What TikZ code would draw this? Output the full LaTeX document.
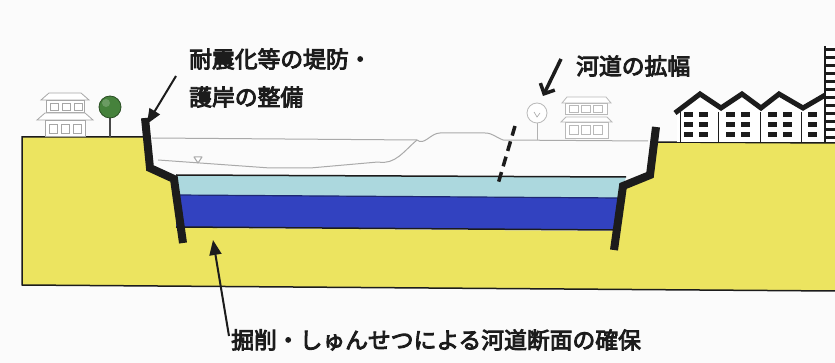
\documentclass[tikz,border=0pt]{standalone}
\usepackage{fontspec}
\newfontfamily\jp{Noto Sans CJK JP}
\usetikzlibrary{arrows.meta}
\definecolor{ground}{RGB}{236,228,96}
\definecolor{shallow}{RGB}{172,216,222}
\definecolor{deep}{RGB}{50,66,192}
\definecolor{ink}{RGB}{28,28,28}
\definecolor{faint}{RGB}{170,170,170}
\definecolor{leaf}{RGB}{70,130,60}
\definecolor{paper}{RGB}{251,251,251}
% heavier strokes for the captions: fill and outline the glyphs
\newcommand{\heavytext}[1]{\special{pdf:literal direct 2 Tr 0.9 w}#1\special{pdf:literal direct 0 Tr}}
\begin{document}
\begin{tikzpicture}[x=1pt,y=-1pt,
  caption/.style={font=\jp\fontsize{22.8}{27}\selectfont, text=ink, inner sep=0pt, anchor=west},
  wall/.style={line width=8pt, draw=ink, line join=miter},
  edge/.style={line width=1.5pt, draw=ink},
  oldline/.style={line width=1pt, draw=faint, line join=round},
  pointer/.style={line width=2pt, draw=ink, -{Triangle[length=15pt,width=12pt]}},
  sketch/.style={line width=0.8pt, draw=gray!70, fill=white},
  window/.style={fill=ink},
]
% background and frame
\fill[paper] (0,0) rectangle (835,363);
\useasboundingbox (0,0) rectangle (835,363);

% ground section
\fill[ground] (22,137) -- (146,137) -- (150,168) -- (175,180) -- (181,228)
  -- (612,231) -- (622,186) -- (650,175) -- (655,142) -- (835,143)
  -- (835,291) -- (22,285) -- cycle;
\draw[edge] (146,137) -- (22,137) -- (22,285) -- (835,291);
\draw[edge] (655,142) -- (835,143);

% water layers
\fill[shallow] (176,175) -- (626,177) -- (620,198) -- (176,195) -- cycle;
\fill[deep] (176,195) -- (620,198) -- (614,230) -- (176,227) -- cycle;
\draw[edge] (176,175) -- (626,177);
\draw[line width=1.2pt, draw=deep!60!black] (176,195) -- (620,198);
\draw[edge] (176,227) -- (614,230);

% former ground surface and former channel
\draw[oldline] (152,138) -- (417,140) to[out=-40,in=180] (440,133) -- (485,133) to[out=0,in=160] (503,140) -- (648,141);
\draw[oldline] (158,160) -- (200,163) -- (270,168) -- (310,168) -- (378,162) to[out=-10,in=-140] (417,140);
\draw[oldline, fill=white] (194,157) -- (202,157) -- (198,163) -- cycle;

% levee walls
\draw[wall] (145,118) -- (150,168) -- (174,179) -- (183,243);
\draw[wall] (656,127) -- (650,175) -- (623,186) -- (614,250);

% widened bank line
\draw[line width=3.5pt, draw=ink, dash pattern=on 10pt off 6pt] (515,126) -- (498,184);

% left house
\begin{scope}
  \draw[sketch] (41,100) -- (49,93) -- (81,93) -- (89,100) -- cycle;
  \draw[sketch] (46,100) rectangle (84,112);
  \foreach \x in {50,62,74} \draw[sketch] (\x,103) rectangle (\x+8,110);
  \draw[sketch] (37,120) -- (45,113) -- (85,113) -- (93,120) -- cycle;
  \draw[sketch] (45,120) rectangle (85,136);
  \foreach \x in {49,61,73} \draw[sketch] (\x,124) rectangle (\x+8,133);
\end{scope}
% left tree
\draw[line width=1.5pt, draw=ink!80] (110,112) -- (110,137);
\fill[leaf, draw=leaf!60!black, line width=0.8pt] (110,107) circle[radius=11];
\fill[leaf!80!white] (106,103) circle[radius=4];

% right house and tree
\draw[sketch, draw=gray!55] (562,103) -- (567,97) -- (606,97) -- (611,103) -- cycle;
\draw[sketch, draw=gray!55] (565,103) rectangle (607,114);
\foreach \x in {569,581,593} \draw[sketch, draw=gray!55] (\x,105) rectangle (\x+9,112);
\draw[sketch, draw=gray!55] (561,122) -- (566,117) -- (607,117) -- (612,122) -- cycle;
\draw[sketch, draw=gray!55] (565,122) rectangle (608,138);
\foreach \x in {569,581,593} \draw[sketch, draw=gray!55] (\x,125) rectangle (\x+9,134);
\draw[line width=0.8pt, draw=gray!60] (537,122) -- (537,140);
\draw[sketch, draw=gray!55] (537,113) circle[radius=10];
\draw[line width=0.6pt, draw=gray!70] (534,112) -- (537,117) -- (540,113);

% row houses
\fill[white] (677,112) -- (700,95) -- (721,109) -- (742,95) -- (761,109) -- (779,95)
  -- (803,109) -- (825,96) -- (825,142) -- (677,142) -- cycle;
\foreach \x in {680,718,760,801}
  \draw[line width=1pt, draw=ink] (\x,112) -- (\x,142);
\foreach \x in {684,699,726,741,768,783,808}
  \foreach \y in {112,122,132}
    \fill[window] (\x,\y) rectangle (\x+9,\y+5);
\draw[line width=5pt, draw=ink, line join=miter]
  (675,113) -- (700,94) -- (721,108) -- (742,94) -- (761,108) -- (779,94)
  -- (803,108) -- (827,94);

% tower block at the right edge
\fill[white] (825,46) rectangle (835,142);
\draw[line width=2pt, draw=ink] (825,46) -- (825,142);
\foreach \y in {48,56,...,136}
  \fill[ink] (825,\y) rectangle (835,\y+3.5);

% pointers
\coordinate (quakeTail) at (176,76);
\coordinate (leveeTop) at (147,124);
\coordinate (widenTail) at (561,59);
\coordinate (bankEdge) at (543,96);
\coordinate (dredgeTail) at (229,336);
\coordinate (channelBed) at (213,240);
\draw[pointer] (quakeTail) -- (leveeTop);
\draw[line width=3.5pt, draw=ink, -{Straight Barb[length=8pt,width=16pt,line width=3.5pt]}] (widenTail) -- (bankEdge);
\draw[pointer] (dredgeTail) -- (channelBed);

% captions
\node[caption] (quake) at (189,59) {\heavytext{耐震化等の堤防・}};
\node[caption] (bank) at (189,97) {\heavytext{護岸の整備}};
\node[caption] (widen) at (576,66) {\heavytext{河道の拡幅}};
\node[caption] (dredge) at (231,340) {\heavytext{掘削・しゅんせつによる河道断面の確保}};
\end{tikzpicture}
\end{document}
